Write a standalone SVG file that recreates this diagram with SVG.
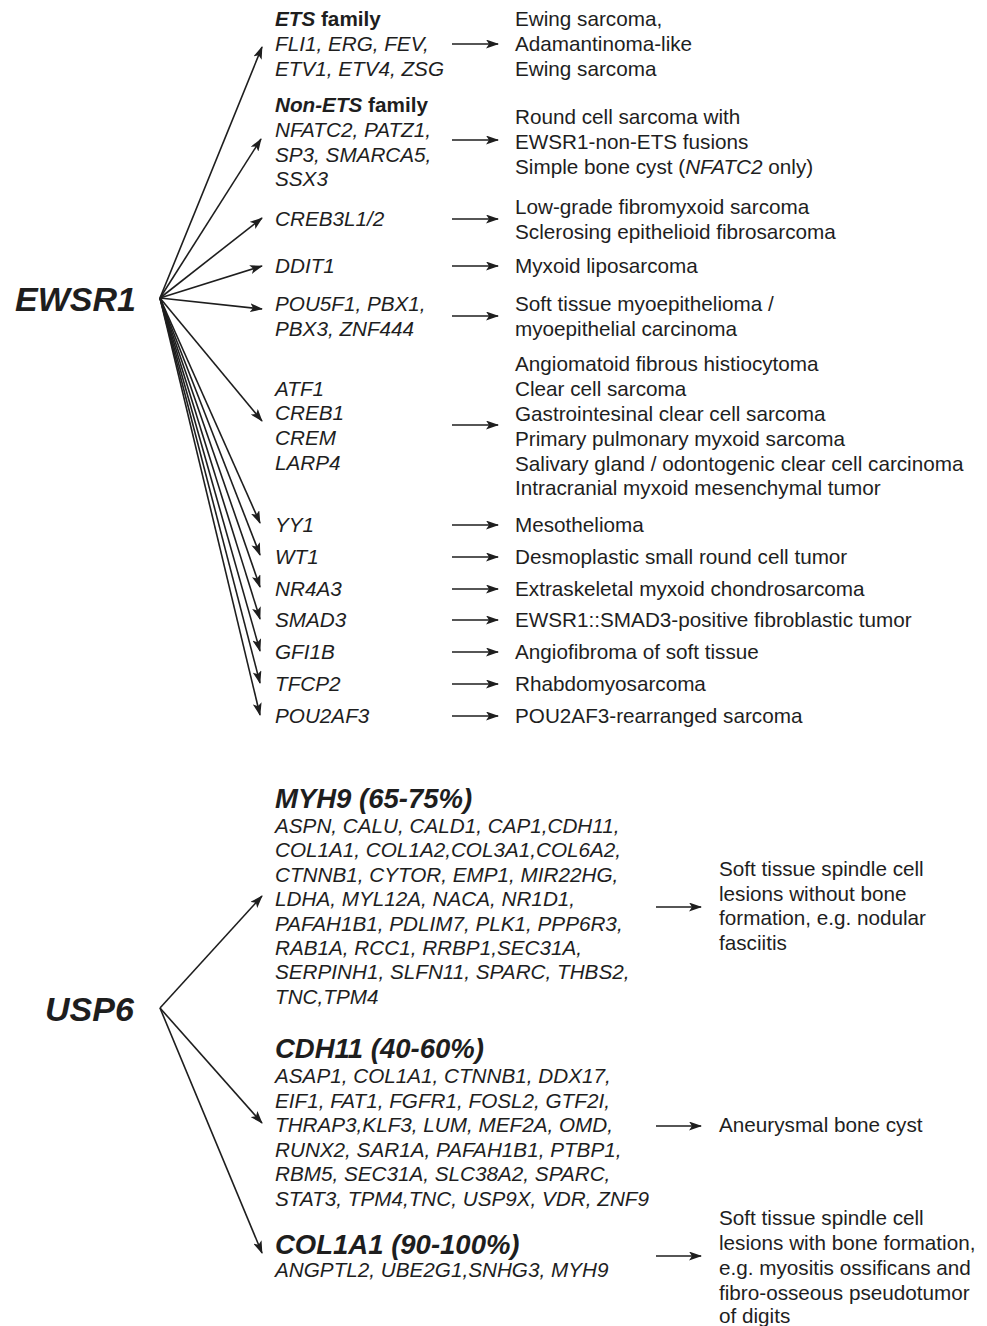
<svg xmlns="http://www.w3.org/2000/svg" width="987" height="1326" viewBox="0 0 987 1326">
<style>
text{font-family:"Liberation Sans",Arial,sans-serif;fill:#1e1e1e;font-size:20.7px}
.g{font-style:italic}
.b{font-weight:bold}
.hub{font-weight:bold;font-style:italic;font-size:34px}
.hd{font-weight:bold;font-style:italic;font-size:27.5px}
.c{stroke:#1e1e1e;stroke-width:1.6;fill:none;marker-end:url(#ah)}
</style>
<defs>
<marker id="ah" markerUnits="userSpaceOnUse" markerWidth="13" markerHeight="9" refX="12" refY="4.5" orient="auto">
<path d="M0,0 L13,4.5 L0,9 L3,4.5 z" fill="#1e1e1e"/>
</marker>
</defs>
<rect width="987" height="1326" fill="#fff"/>
<g id="connectors">
<line class="c" x1="160" y1="298" x2="262" y2="47"/>
<line class="c" x1="160" y1="298" x2="261" y2="139"/>
<line class="c" x1="160" y1="298" x2="262" y2="218"/>
<line class="c" x1="160" y1="298" x2="262" y2="266"/>
<line class="c" x1="160" y1="298" x2="262" y2="309"/>
<line class="c" x1="160" y1="298" x2="262" y2="421"/>
<line class="c" x1="160" y1="298" x2="260" y2="523"/>
<line class="c" x1="160" y1="298" x2="260" y2="555"/>
<line class="c" x1="160" y1="298" x2="260" y2="587"/>
<line class="c" x1="160" y1="298" x2="260" y2="619"/>
<line class="c" x1="160" y1="298" x2="260" y2="651"/>
<line class="c" x1="160" y1="298" x2="260" y2="683"/>
<line class="c" x1="160" y1="298" x2="260" y2="715"/>
<line class="c" x1="452" y1="44" x2="498" y2="44"/>
<line class="c" x1="452" y1="140" x2="498" y2="140"/>
<line class="c" x1="452" y1="219" x2="498" y2="219"/>
<line class="c" x1="452" y1="266" x2="498" y2="266"/>
<line class="c" x1="452" y1="316" x2="498" y2="316"/>
<line class="c" x1="452" y1="425" x2="498" y2="425"/>
<line class="c" x1="452" y1="525" x2="498" y2="525"/>
<line class="c" x1="452" y1="557" x2="498" y2="557"/>
<line class="c" x1="452" y1="589" x2="498" y2="589"/>
<line class="c" x1="452" y1="620" x2="498" y2="620"/>
<line class="c" x1="452" y1="652" x2="498" y2="652"/>
<line class="c" x1="452" y1="684" x2="498" y2="684"/>
<line class="c" x1="452" y1="716" x2="498" y2="716"/>
<line class="c" x1="160" y1="1008" x2="262" y2="896"/>
<line class="c" x1="160" y1="1008" x2="262" y2="1123"/>
<line class="c" x1="160" y1="1008" x2="262" y2="1253"/>
<line class="c" x1="656" y1="907" x2="701" y2="907"/>
<line class="c" x1="656" y1="1126" x2="701" y2="1126"/>
<line class="c" x1="656" y1="1256" x2="701" y2="1256"/>
</g>
<g id="ewsr1"><text class="hub" x="15" y="311">EWSR1</text></g>
<g id="ets">
<text x="275" y="26"><tspan class="b g">ETS</tspan><tspan class="b"> family</tspan></text>
<text class="g" x="275" y="51">FLI1, ERG, FEV,</text>
<text class="g" x="275" y="76">ETV1, ETV4, ZSG</text>
</g>
<g id="nonets">
<text x="275" y="112"><tspan class="b g">Non-ETS</tspan><tspan class="b"> family</tspan></text>
<text class="g" x="275" y="137">NFATC2, PATZ1,</text>
<text class="g" x="275" y="162">SP3, SMARCA5,</text>
<text class="g" x="275" y="186">SSX3</text>
</g>
<g id="creb3l"><text class="g" x="275" y="226">CREB3L1/2</text></g>
<g id="ddit1"><text class="g" x="275" y="273">DDIT1</text></g>
<g id="pou5f1">
<text class="g" x="275" y="311">POU5F1, PBX1,</text>
<text class="g" x="275" y="336">PBX3, ZNF444</text>
</g>
<g id="atf1">
<text class="g" x="275" y="396">ATF1</text>
<text class="g" x="275" y="420">CREB1</text>
<text class="g" x="275" y="445">CREM</text>
<text class="g" x="275" y="470">LARP4</text>
</g>
<g id="yy1"><text class="g" x="275" y="532">YY1</text></g>
<g id="wt1"><text class="g" x="275" y="564">WT1</text></g>
<g id="nr4a3"><text class="g" x="275" y="596">NR4A3</text></g>
<g id="smad3"><text class="g" x="275" y="627">SMAD3</text></g>
<g id="gfi1b"><text class="g" x="275" y="659">GFI1B</text></g>
<g id="tfcp2"><text class="g" x="275" y="691">TFCP2</text></g>
<g id="pou2af3"><text class="g" x="275" y="723">POU2AF3</text></g>
<g id="d-ewing">
<text x="515" y="26">Ewing sarcoma,</text>
<text x="515" y="51">Adamantinoma-like</text>
<text x="515" y="76">Ewing sarcoma</text>
</g>
<g id="d-roundcell">
<text x="515" y="124">Round cell sarcoma with</text>
<text x="515" y="149">EWSR1-non-ETS fusions</text>
<text x="515" y="174">Simple bone cyst (<tspan class="g">NFATC2</tspan> only)</text>
</g>
<g id="d-lgfms">
<text x="515" y="214">Low-grade fibromyxoid sarcoma</text>
<text x="515" y="239">Sclerosing epithelioid fibrosarcoma</text>
</g>
<g id="d-myxlipo"><text x="515" y="273">Myxoid liposarcoma</text></g>
<g id="d-myoep">
<text x="515" y="311">Soft tissue myoepithelioma /</text>
<text x="515" y="336">myoepithelial carcinoma</text>
</g>
<g id="d-afh">
<text x="515" y="371">Angiomatoid fibrous histiocytoma</text>
<text x="515" y="396">Clear cell sarcoma</text>
<text x="515" y="421">Gastrointesinal clear cell sarcoma</text>
<text x="515" y="446">Primary pulmonary myxoid sarcoma</text>
<text x="515" y="471">Salivary gland / odontogenic clear cell carcinoma</text>
<text x="515" y="495">Intracranial myxoid mesenchymal tumor</text>
</g>
<g id="d-meso"><text x="515" y="532">Mesothelioma</text></g>
<g id="d-dsrct"><text x="515" y="564">Desmoplastic small round cell tumor</text></g>
<g id="d-emc"><text x="515" y="596">Extraskeletal myxoid chondrosarcoma</text></g>
<g id="d-smad3"><text x="515" y="627">EWSR1::SMAD3-positive fibroblastic tumor</text></g>
<g id="d-angiofib"><text x="515" y="659">Angiofibroma of soft tissue</text></g>
<g id="d-rms"><text x="515" y="691">Rhabdomyosarcoma</text></g>
<g id="d-pou2af3"><text x="515" y="723">POU2AF3-rearranged sarcoma</text></g>
<g id="usp6"><text class="hub" x="45" y="1021">USP6</text></g>
<g id="myh9">
<text class="hd" x="275" y="808">MYH9 (65-75%)</text>
<text class="g" x="275" y="833">ASPN, CALU, CALD1, CAP1,CDH11,</text>
<text class="g" x="275" y="857.4">COL1A1, COL1A2,COL3A1,COL6A2,</text>
<text class="g" x="275" y="881.8">CTNNB1, CYTOR, EMP1, MIR22HG,</text>
<text class="g" x="275" y="906.2">LDHA, MYL12A, NACA, NR1D1,</text>
<text class="g" x="275" y="930.6">PAFAH1B1, PDLIM7, PLK1, PPP6R3,</text>
<text class="g" x="275" y="955">RAB1A, RCC1, RRBP1,SEC31A,</text>
<text class="g" x="275" y="979.4">SERPINH1, SLFN11, SPARC, THBS2,</text>
<text class="g" x="275" y="1003.8">TNC,TPM4</text>
</g>
<g id="cdh11">
<text class="hd" x="275" y="1058">CDH11 (40-60%)</text>
<text class="g" x="275" y="1083">ASAP1, COL1A1, CTNNB1, DDX17,</text>
<text class="g" x="275" y="1107.5">EIF1, FAT1, FGFR1, FOSL2, GTF2I,</text>
<text class="g" x="275" y="1132">THRAP3,KLF3, LUM, MEF2A, OMD,</text>
<text class="g" x="275" y="1156.5">RUNX2, SAR1A, PAFAH1B1, PTBP1,</text>
<text class="g" x="275" y="1181">RBM5, SEC31A, SLC38A2, SPARC,</text>
<text class="g" x="275" y="1205.5">STAT3, TPM4,TNC, USP9X, VDR, ZNF9</text>
</g>
<g id="col1a1">
<text class="hd" x="275" y="1254">COL1A1 (90-100%)</text>
<text class="g" x="275" y="1277">ANGPTL2, UBE2G1,SNHG3, MYH9</text>
</g>
<g id="d-nodular">
<text x="719" y="876">Soft tissue spindle cell</text>
<text x="719" y="900.5">lesions without bone</text>
<text x="719" y="925">formation, e.g. nodular</text>
<text x="719" y="949.5">fasciitis</text>
</g>
<g id="d-abc"><text x="719" y="1132">Aneurysmal bone cyst</text></g>
<g id="d-myositis">
<text x="719" y="1225">Soft tissue spindle cell</text>
<text x="719" y="1250">lesions with bone formation,</text>
<text x="719" y="1275">e.g. myositis ossificans and</text>
<text x="719" y="1300">fibro-osseous pseudotumor</text>
<text x="719" y="1323">of digits</text>
</g>
</svg>
